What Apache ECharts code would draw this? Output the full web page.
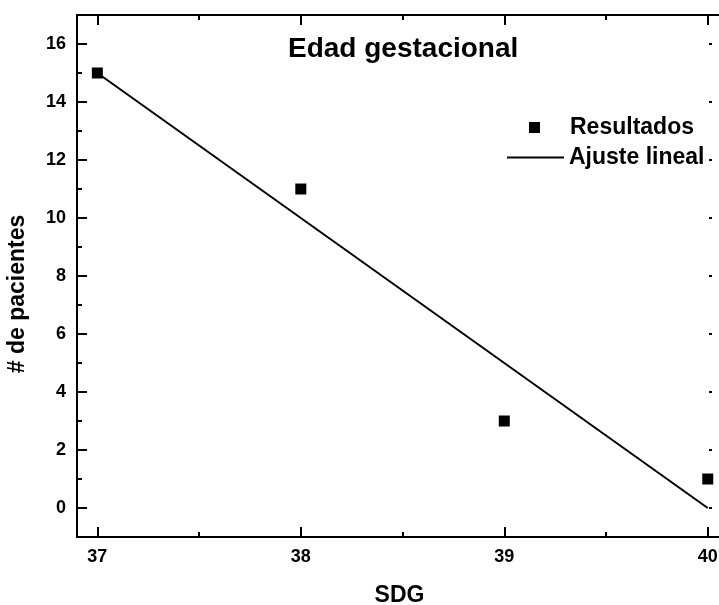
<!DOCTYPE html>
<html>
<head>
<meta charset="utf-8">
<script src="https://cdn.jsdelivr.net/npm/echarts@6/dist/echarts.min.js"></script>
<style>
  html, body { margin: 0; padding: 0; background: #fff; }
  #chart { width: 719px; height: 605px; }
</style>
</head>
<body>
<div id="chart"></div>
<script>
// datos
const sdg = [37, 38, 39, 40];
const pacientes = [15, 11, 3, 1];
const ajusteX = [37, 40];
const ajusteY = [15, 0];
const xTicks = [37, 38, 39, 40];
const xMinor = [37.5, 38.5, 39.5];
const yTicks = [0, 2, 4, 6, 8, 10, 12, 14, 16];
const yMinor = [1, 3, 5, 7, 9, 11, 13, 15];

const FONT = 'Liberation Sans, Arial, sans-serif';
const BLACK = '#000';

const xMin = 36.9, xMax = 40.07;
const yMin = -1, yMax = 17;

function xAx(pos, ticks, len, opts) {
  return Object.assign({
    type: 'value', position: pos, min: xMin, max: xMax,
    splitLine: {show: false},
    axisLine: {show: false, onZero: false},
    axisLabel: {show: false},
    axisTick: {show: true, inside: true, length: len, customValues: ticks, lineStyle: {color: BLACK, width: 2}}
  }, opts || {});
}
function yAx(pos, ticks, len, opts) {
  return Object.assign({
    type: 'value', position: pos, min: yMin, max: yMax,
    splitLine: {show: false},
    axisLine: {show: false, onZero: false},
    axisLabel: {show: false},
    axisTick: {show: true, inside: true, length: len, customValues: ticks, lineStyle: {color: BLACK, width: 2}}
  }, opts || {});
}

const option = {
  backgroundColor: '#fff',
  animation: false,
  textStyle: {fontFamily: FONT},
  title: {
    text: 'Edad gestacional',
    left: 288,
    top: 35,
    padding: 0,
    textStyle: {fontFamily: FONT, fontSize: 28, fontWeight: 'bold', color: BLACK}
  },
  legend: [
    {
      data: [{name: 'Resultados', icon: 'rect'}],
      left: 529, top: 116, padding: 0,
      itemWidth: 11, itemHeight: 11,
      textStyle: {fontFamily: FONT, fontSize: 23, fontWeight: 'bold', color: BLACK, padding: [0, 0, 0, 25]}
    },
    {
      data: [{name: 'Ajuste lineal', icon: 'rect'}],
      left: 507, top: 146, padding: 0,
      itemWidth: 57, itemHeight: 2,
      textStyle: {fontFamily: FONT, fontSize: 23, fontWeight: 'bold', color: BLACK}
    }
  ],
  grid: {left: 77, top: 15, width: 645, height: 522, containLabel: false, outerBoundsMode: 'none'},
  xAxis: [
    xAx('bottom', xTicks, 10, {
      axisLine: {show: true, onZero: false, lineStyle: {color: BLACK, width: 2}},
      axisLabel: {show: true, customValues: xTicks, margin: 11, color: BLACK,
        fontFamily: FONT, fontSize: 18, fontWeight: 'bold'},
      name: 'SDG', nameLocation: 'middle', nameGap: 47,
      nameTextStyle: {fontFamily: FONT, fontSize: 23, fontWeight: 'bold', color: BLACK}
    }),
    xAx('bottom', xMinor, 5),
    xAx('top', xTicks, 10, {axisLine: {show: true, onZero: false, lineStyle: {color: BLACK, width: 2}}}),
    xAx('top', xMinor, 5)
  ],
  yAxis: [
    yAx('left', yTicks, 10, {
      axisLine: {show: true, onZero: false, lineStyle: {color: BLACK, width: 2}},
      axisLabel: {show: true, customValues: yTicks, margin: 11, color: BLACK,
        fontFamily: FONT, fontSize: 18, fontWeight: 'bold'},
      name: '# de pacientes', nameLocation: 'middle', nameGap: 48,
      nameTextStyle: {fontFamily: FONT, fontSize: 23, fontWeight: 'bold', color: BLACK, padding: [0, 36, 0, 0]}
    }),
    yAx('left', yMinor, 5),
    yAx('right', yTicks, 3, {offset: -10})
  ],
  series: [
    {
      name: 'Resultados',
      type: 'scatter',
      symbol: 'rect',
      symbolSize: 11,
      itemStyle: {color: BLACK, opacity: 1},
      data: sdg.map((x, i) => [x, pacientes[i]]),
      z: 3
    },
    {
      name: 'Ajuste lineal',
      type: 'line',
      symbol: 'none',
      lineStyle: {color: BLACK, width: 2},
      itemStyle: {color: BLACK},
      data: ajusteX.map((x, i) => [x, ajusteY[i]]),
      z: 2
    }
  ]
};

const chart = echarts.init(document.getElementById('chart'));
chart.setOption(option);
window.addEventListener('resize', () => {
  chart.resize();
});
</script>
</body>
</html>
